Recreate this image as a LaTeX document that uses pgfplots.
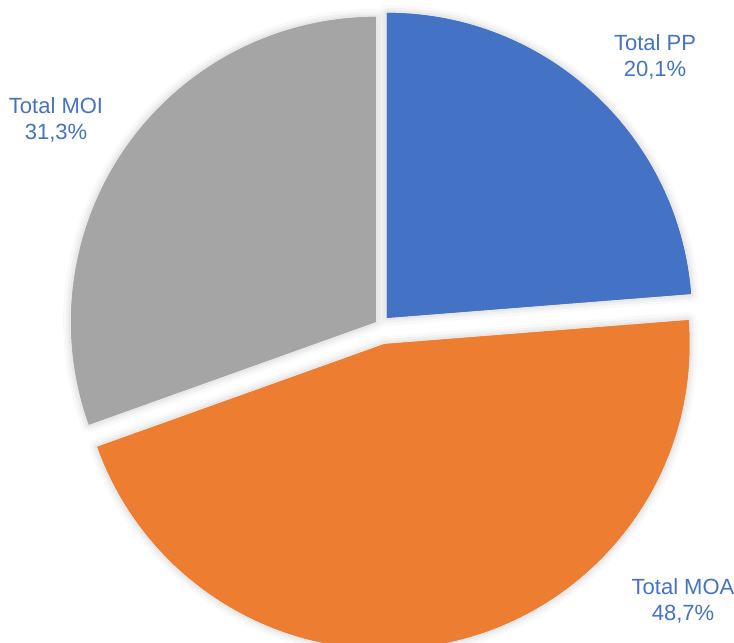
\documentclass[border=0pt]{standalone}
\usepackage{pgfplots}
\pgfplotsset{compat=1.18}
\usepackage{fontspec}
\setmainfont{Liberation Sans}
\definecolor{cPP}{HTML}{4472C4}
\definecolor{cMOA}{HTML}{ED7D31}
\definecolor{cMOI}{HTML}{A5A5A5}
\definecolor{lbl}{HTML}{4472C4}
% slice share of the full circle (per cent), as drawn
\def\vPP{23.75}
\def\vMOA{45.78}
\def\vMOI{30.47}
\newcommand{\slicepath}[3]{(axis cs:380.4,318) ++({(#1+#2)/2}:#3bp) -- ++(#1:305bp) arc[start angle=#1, end angle=#2, radius=305bp] -- cycle}
\newcommand{\drawslice}[4]{%
  \draw[black, opacity=0.025, line width=16bp, line join=round] \slicepath{#1}{#2}{#3};
  \draw[black, opacity=0.03, line width=10bp, line join=round] \slicepath{#1}{#2}{#3};
  \draw[black, opacity=0.04, line width=5bp, line join=round] \slicepath{#1}{#2}{#3};
  \fill[#4] \slicepath{#1}{#2}{#3};}
\begin{document}
\begin{tikzpicture}
\pgfmathsetmacro\aA{90}
\pgfmathsetmacro\aB{\aA-3.6*\vPP}
\pgfmathsetmacro\aC{\aB-3.6*\vMOA}
\pgfmathsetmacro\aD{\aC-3.6*\vMOI}
\begin{axis}[scale only axis, width=734bp, height=643bp,
  xmin=0, xmax=734, ymin=0, ymax=643, hide axis, clip=true]
\drawslice{\aA}{\aB}{9.7}{cPP}
\drawslice{\aB}{\aC}{19.5}{cMOA}
\drawslice{\aC}{\aD}{5.4}{cMOI}
\fill[cPP] \slicepath{\aA}{\aB}{9.7};
\fill[cMOA] \slicepath{\aB}{\aC}{19.5};
\fill[cMOI] \slicepath{\aC}{\aD}{5.4};
\node[align=center, text=lbl, font=\fontsize{22bp}{26bp}\selectfont] at (axis cs:655,586.5) {Total PP\\20,1\%};
\node[align=center, text=lbl, font=\fontsize{22bp}{26bp}\selectfont] at (axis cs:56,523) {Total MOI\\31,3\%};
\node[align=center, text=lbl, font=\fontsize{22bp}{26bp}\selectfont] at (axis cs:683,42.5) {Total MOA\\48,7\%};
\end{axis}
\pgfresetboundingbox
\path (current axis.south west) rectangle (current axis.north east);
\end{tikzpicture}
\end{document}
